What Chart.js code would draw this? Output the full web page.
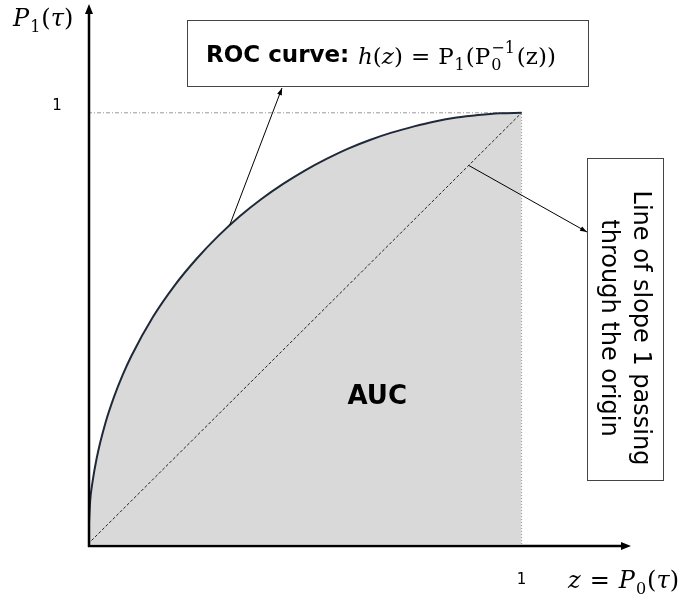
<!DOCTYPE html>
<html>
<head>
<meta charset="utf-8">
<script src="https://cdn.jsdelivr.net/npm/chart.js@4.4.1/dist/chart.umd.min.js"></script>
<style>
  html, body { margin: 0; padding: 0; background: #fff; overflow: hidden; }
  #wrap { width: 682px; height: 599px; position: relative; }
</style>
</head>
<body>
<div id="wrap"><canvas id="c"></canvas></div>
<script>
// ROC curve (z = P0, h(z) = P1)
const rocX = [0, 0.005, 0.01, 0.02, 0.04, 0.06, 0.08, 0.1, 0.15, 0.2, 0.25, 0.3, 0.35,
              0.4, 0.45, 0.5, 0.55, 0.6, 0.65, 0.7, 0.75, 0.8, 0.85, 0.9, 0.95, 1];
const rocY = [0, 0.1, 0.141, 0.199, 0.28, 0.341, 0.392, 0.436, 0.527, 0.6, 0.661, 0.714, 0.76,
              0.8, 0.835, 0.866, 0.893, 0.917, 0.937, 0.954, 0.968, 0.98, 0.989, 0.995, 0.999, 1];
// line of slope 1
const diagX = [0, 1];
const diagY = [0, 1];
// tick labels
const tickValues = [1];
const tickLabels = ['1'];

const toPts = (xs, ys) => xs.map((x, i) => ({ x: x, y: ys[i] }));

const SANS = '"DejaVu Sans", Verdana, sans-serif';
const SERIF = '"DejaVu Serif", "Liberation Serif", serif';

// draw a run of text pieces: [text, font, dy] or a number (extra gap)
function drawRuns(ctx, x, y, runs) {
  ctx.textAlign = 'left';
  ctx.textBaseline = 'alphabetic';
  for (const r of runs) {
    if (typeof r === 'number') { x += r; continue; }
    if (r.stack) {
      ctx.font = r.font;
      ctx.fillText(r.sub, x, y + r.subDy);
      ctx.fillText(r.sup, x, y + r.supDy);
      x += Math.max(ctx.measureText(r.sub).width, ctx.measureText(r.sup).width) + 1;
      continue;
    }
    ctx.font = r[1];
    ctx.fillText(r[0], x, y + (r[2] || 0));
    x += ctx.measureText(r[0]).width;
  }
}

function arrowHead(ctx, x0, y0, x1, y1, len, wid) {
  const a = Math.atan2(y1 - y0, x1 - x0);
  ctx.beginPath();
  ctx.moveTo(x1, y1);
  ctx.lineTo(x1 - len * Math.cos(a) + wid / 2 * Math.sin(a), y1 - len * Math.sin(a) - wid / 2 * Math.cos(a));
  ctx.lineTo(x1 - len * Math.cos(a) - wid / 2 * Math.sin(a), y1 - len * Math.sin(a) + wid / 2 * Math.cos(a));
  ctx.closePath();
  ctx.fill();
}

function arrow(ctx, x0, y0, x1, y1) {
  ctx.beginPath();
  ctx.moveTo(x0, y0);
  ctx.lineTo(x1, y1);
  ctx.stroke();
  arrowHead(ctx, x0, y0, x1, y1, 7, 5);
}

const decor = {
  id: 'decor',
  afterDatasetsDraw(chart) {
    const ctx = chart.ctx;
    const xs = chart.scales.x, ys = chart.scales.y;
    const px = v => xs.getPixelForValue(v);
    const py = v => ys.getPixelForValue(v);
    const ox = px(0) + 1, oy = py(0) + 2;
    ctx.save();
    ctx.fillStyle = '#000';
    ctx.strokeStyle = '#000';

    // axes with arrows
    ctx.lineWidth = 2.5;
    ctx.beginPath();
    ctx.moveTo(ox, oy + 1);
    ctx.lineTo(ox, chart.chartArea.top + 6);
    ctx.moveTo(ox - 1, oy);
    ctx.lineTo(chart.chartArea.right - 6, oy);
    ctx.stroke();
    arrowHead(ctx, ox, oy, ox, chart.chartArea.top - 1, 10, 8);
    arrowHead(ctx, ox, oy, chart.chartArea.right + 1, oy, 10, 8);

    // tick labels
    ctx.font = '15px ' + SANS;
    ctx.textAlign = 'center';
    ctx.textBaseline = 'middle';
    tickValues.forEach((v, i) => {
      ctx.fillText(tickLabels[i], px(v), oy + 34);
      ctx.fillText(tickLabels[i], ox - 32, py(v) - 7);
    });

    // axis titles
    const it = 'italic 24px ' + SERIF, up = '24px ' + SERIF, sb = '16px ' + SERIF;
    drawRuns(ctx, 13, 26, [['P', it], 1, ['1', sb, 6], 1, ['(', up], ['\u03C4', it], [')', up]]);
    drawRuns(ctx, 568, 588, [['z', it], 9, ['=', up], 9, ['P', it], 1, ['0', sb, 6], 1, ['(', up], ['\u03C4', it], [')', up]]);

    // ROC curve box
    ctx.lineWidth = 1;
    ctx.strokeStyle = '#444';
    ctx.strokeRect(187.5, 20.5, 401, 66);
    ctx.fillStyle = '#000';
    ctx.font = 'bold 23px ' + SANS;
    ctx.textAlign = 'left';
    ctx.textBaseline = 'alphabetic';
    ctx.fillText('ROC curve:', 206, 62);
    const bit = 'italic 23px ' + SERIF, bup = '23px ' + SERIF, bsb = '16px ' + SERIF;
    drawRuns(ctx, 358, 64, [
      ['h', bit], ['(', bup], ['z', bit], [')', bup], 8, ['=', bup], 8,
      ['P', bup], 1, ['1', bsb, 6], 1, ['(', bup], ['P', bup], 1,
      { stack: true, font: bsb, sub: '0', subDy: 6, sup: '\u22121', supDy: -11 }, 1,
      ['(z))', bup]
    ]);

    // rotated box
    ctx.strokeRect(587.5, 158.5, 76, 322);
    ctx.save();
    ctx.translate(625, 328);
    ctx.rotate(Math.PI / 2);
    ctx.font = '24px ' + SANS;
    ctx.textAlign = 'center';
    ctx.textBaseline = 'middle';
    ctx.fillText('Line of slope 1 passing', 0, -15);
    ctx.fillText('through the origin', 0, 17);
    ctx.restore();

    // AUC label
    ctx.font = 'bold 26px ' + SANS;
    ctx.textAlign = 'center';
    ctx.textBaseline = 'middle';
    ctx.fillText('AUC', px(0.667), py(0.341));

    // pointer arrows
    ctx.strokeStyle = '#000';
    ctx.lineWidth = 1;
    arrow(ctx, px(0.327), py(0.74), 282, 88);
    arrow(ctx, px(0.878), py(0.878), 587, 232);
    ctx.restore();
  }
};

new Chart(document.getElementById('c'), {
  type: 'scatter',
  data: {
    datasets: [
      {
        label: 'ROC curve',
        data: toPts(rocX, rocY),
        showLine: true,
        fill: 'origin',
        backgroundColor: '#d9d9d9',
        borderColor: '#1f2939',
        borderWidth: 2,
        pointRadius: 0,
        cubicInterpolationMode: 'monotone',
        order: 1
      },
      {
        label: 'slope 1',
        data: toPts(diagX, diagY),
        showLine: true,
        borderColor: '#222',
        borderWidth: 1,
        borderDash: [3, 2],
        pointRadius: 0,
        order: 0
      },
      {
        label: 'P1 = 1',
        data: [{ x: 0, y: tickValues[0] }, { x: tickValues[0], y: tickValues[0] }],
        showLine: true,
        borderColor: '#999',
        borderWidth: 1,
        borderDash: [4, 2, 1, 2],
        pointRadius: 0,
        order: 2
      },
      {
        label: 'z = 1',
        data: [{ x: tickValues[0], y: 0 }, { x: tickValues[0], y: tickValues[0] }],
        showLine: true,
        borderColor: '#999',
        borderWidth: 1,
        borderDash: [1, 2],
        pointRadius: 0,
        order: 0.5
      }
    ]
  },
  options: {
    responsive: true,
    maintainAspectRatio: false,
    animation: false,
    layout: { padding: { left: 88, top: 5, right: 52, bottom: 55 } },
    scales: {
      x: { type: 'linear', min: 0, max: 1.25, display: false },
      y: { type: 'linear', min: 0, max: 1.25, display: false }
    },
    plugins: {
      legend: { display: false },
      tooltip: { enabled: false }
    }
  },
  plugins: [decor]
});
</script>
</body>
</html>
